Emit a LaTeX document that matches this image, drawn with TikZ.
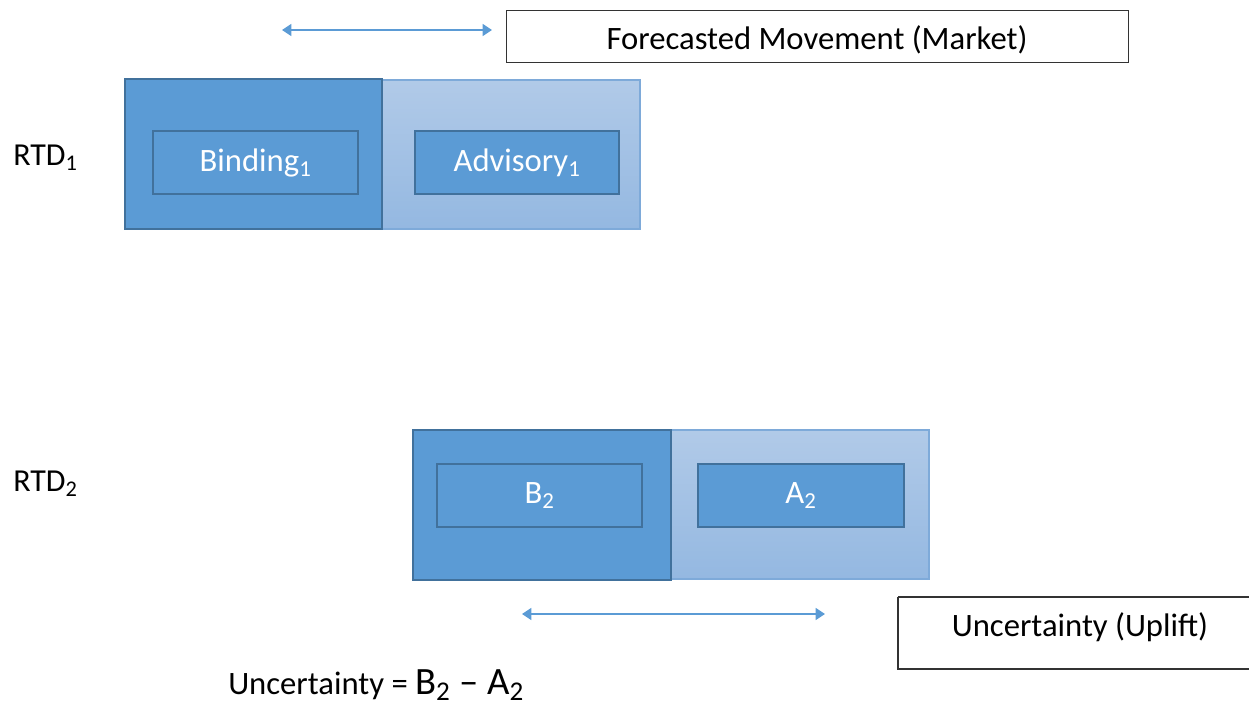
\documentclass[tikz,border=0pt]{standalone}
\usepackage{fontspec}
\setmainfont{Carlito}
\usetikzlibrary{arrows.meta}
\definecolor{obl}{HTML}{5B9BD5}
\definecolor{obd}{HTML}{41719C}
\definecolor{ltop}{HTML}{B1CAE8}
\definecolor{lbot}{HTML}{94B8E1}
\definecolor{lbd}{HTML}{7EAAD9}
\tikzset{
  darkbox/.style={draw=obd, line width=1.6pt, fill=obl},
  lightbox/.style={draw=lbd, line width=0.9pt, top color=ltop, bottom color=lbot},
  innerbox/.style={draw=obd, line width=1.6pt, fill=obl, text=white, font=\fontsize{24.5}{28}\selectfont},
  labelbox/.style={draw=black!80, line width=0.8pt, fill=white},
  sidelabel/.style={font=\fontsize{24}{28}\selectfont, anchor=west, inner sep=0pt},
  bigtext/.style={font=\fontsize{24.5}{28}\selectfont},
  darr/.style={obl, line width=1.2pt, {Triangle[width=9pt,length=7pt]}-{Triangle[width=9pt,length=7pt]}},
}
\begin{document}
\begin{tikzpicture}[x=0.75pt,y=-0.75pt]
\useasboundingbox (0,0) rectangle (1249,705);
% top
\coordinate (t1) at (282,30);
\coordinate (t2) at (492,30);
\draw[darr] (t1) -- (t2);
\node[labelbox, minimum width=622*0.75pt, minimum height=52*0.75pt, anchor=north west] (fm) at (506,10) {};
\node[bigtext] (fmt) at (817,40) {Forecasted Movement (Market)};
% RTD1
\node[sidelabel] (r1) at (13,158) {RTD\textsubscript{1}};
\draw[lightbox] (382,80) rectangle (640,229);
\draw[darkbox] (125,79) rectangle (382,229);
\node[innerbox, minimum width=205*0.75pt, minimum height=63*0.75pt, anchor=north west] (b1) at (152,130) {Binding\textsubscript{1}};
\node[innerbox, minimum width=204*0.75pt, minimum height=63*0.75pt, anchor=north west] (a1) at (414,130) {Advisory\textsubscript{1}};
% RTD2
\node[sidelabel] (r2) at (13,484) {RTD\textsubscript{2}};
\draw[lightbox] (671,430) rectangle (929,579);
\draw[darkbox] (413,430) rectangle (671,580);
\node[innerbox, minimum width=205*0.75pt, minimum height=63*0.75pt, anchor=north west] (b2) at (436,463) {B\textsubscript{2}};
\node[innerbox, minimum width=206*0.75pt, minimum height=63*0.75pt, anchor=north west] (a2) at (697,463) {A\textsubscript{2}};
% bottom
\coordinate (u1) at (522,614);
\coordinate (u2) at (825,614);
\draw[darr] (u1) -- (u2);
\draw[draw=black!80, line width=0.8pt, fill=white] (898,597) -- (1252,597) (898,597) -- (898,669) -- (1252,669);
\node[bigtext] (ul) at (1080,627) {Uncertainty (Uplift)};
\node[anchor=west, inner sep=0pt, bigtext] (eq) at (228,685) {Uncertainty = {\fontsize{29}{32}\selectfont B\textsubscript{2} \textendash{} A\textsubscript{2}}};
\end{tikzpicture}
\end{document}
